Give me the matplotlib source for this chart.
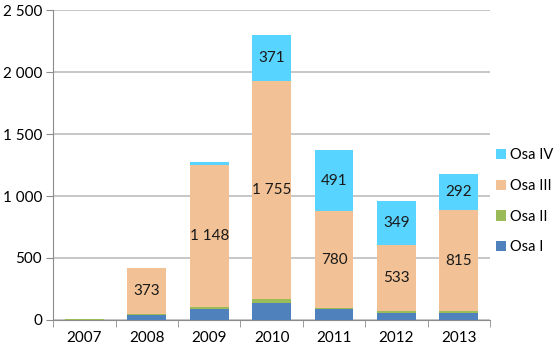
import numpy as np
import matplotlib.pyplot as plt
from matplotlib.ticker import FuncFormatter

plt.rcParams['font.family'] = ['Lato', 'DejaVu Sans']

years = ['2007', '2008', '2009', '2010', '2011', '2012', '2013']
series = ['Osa I', 'Osa II', 'Osa III', 'Osa IV']
osa1 = [0, 40, 91, 140, 86, 59, 56]
osa2 = [5, 5, 11, 30, 11, 16, 14]
osa3 = [0, 373, 1148, 1755, 780, 533, 815]
osa4 = [0, 0, 25, 371, 491, 349, 292]
colors = ['#4F81BD', '#9BBB59', '#F2C195', '#57D4FF']

# which segments carry a value label
label_min = 200

fig = plt.figure(figsize=(5.6, 3.5), dpi=100)
ax = fig.add_axes([0.095, 0.086, 0.78, 0.885])

x = np.arange(len(years))
bottom = np.zeros(len(years))
for name, vals, c in zip(series, [osa1, osa2, osa3, osa4], colors):
    vals = np.array(vals, dtype=float)
    ax.bar(x, vals, 0.62, bottom=bottom, color=c, label=name, zorder=3)
    for xi, b, v in zip(x, bottom, vals):
        if v >= label_min:
            ax.text(xi, b + v / 2, '{:,}'.format(int(v)).replace(',', '\u00a0'),
                    ha='center', va='center', fontsize=11, color='#1a1a1a', zorder=4)
    bottom += vals

ax.set_xlim(-0.5, len(years) - 0.5)
ax.set_ylim(0, 2500)
ax.set_yticks(np.arange(0, 2501, 500))
ax.yaxis.set_major_formatter(FuncFormatter(lambda v, p: '{:,}'.format(int(v)).replace(',', '\u00a0')))
ax.yaxis.grid(True, color='#BEBEBE', linewidth=1.2, zorder=0)

ax.set_xticks(x)
ax.set_xticklabels(years)
ax.set_xticks(np.arange(-0.5, len(years), 1), minor=True)
ax.tick_params(axis='x', which='major', length=0, pad=8, labelsize=11)
ax.tick_params(axis='x', which='minor', length=5, color='#8C8C8C')
ax.tick_params(axis='y', length=5, color='#8C8C8C', labelsize=11, pad=3)

for s in ['top', 'right']:
    ax.spines[s].set_visible(False)
for s in ['left', 'bottom']:
    ax.spines[s].set_color('#8C8C8C')

h, l = ax.get_legend_handles_labels()
fig.legend(h[::-1], l[::-1], loc='center left', bbox_to_anchor=(0.87, 0.425),
           frameon=False, fontsize=10.5, handlelength=0.7, handleheight=0.7,
           handletextpad=0.25, labelspacing=1.15, borderaxespad=0.2)

fig.savefig('out.png', dpi=100)
